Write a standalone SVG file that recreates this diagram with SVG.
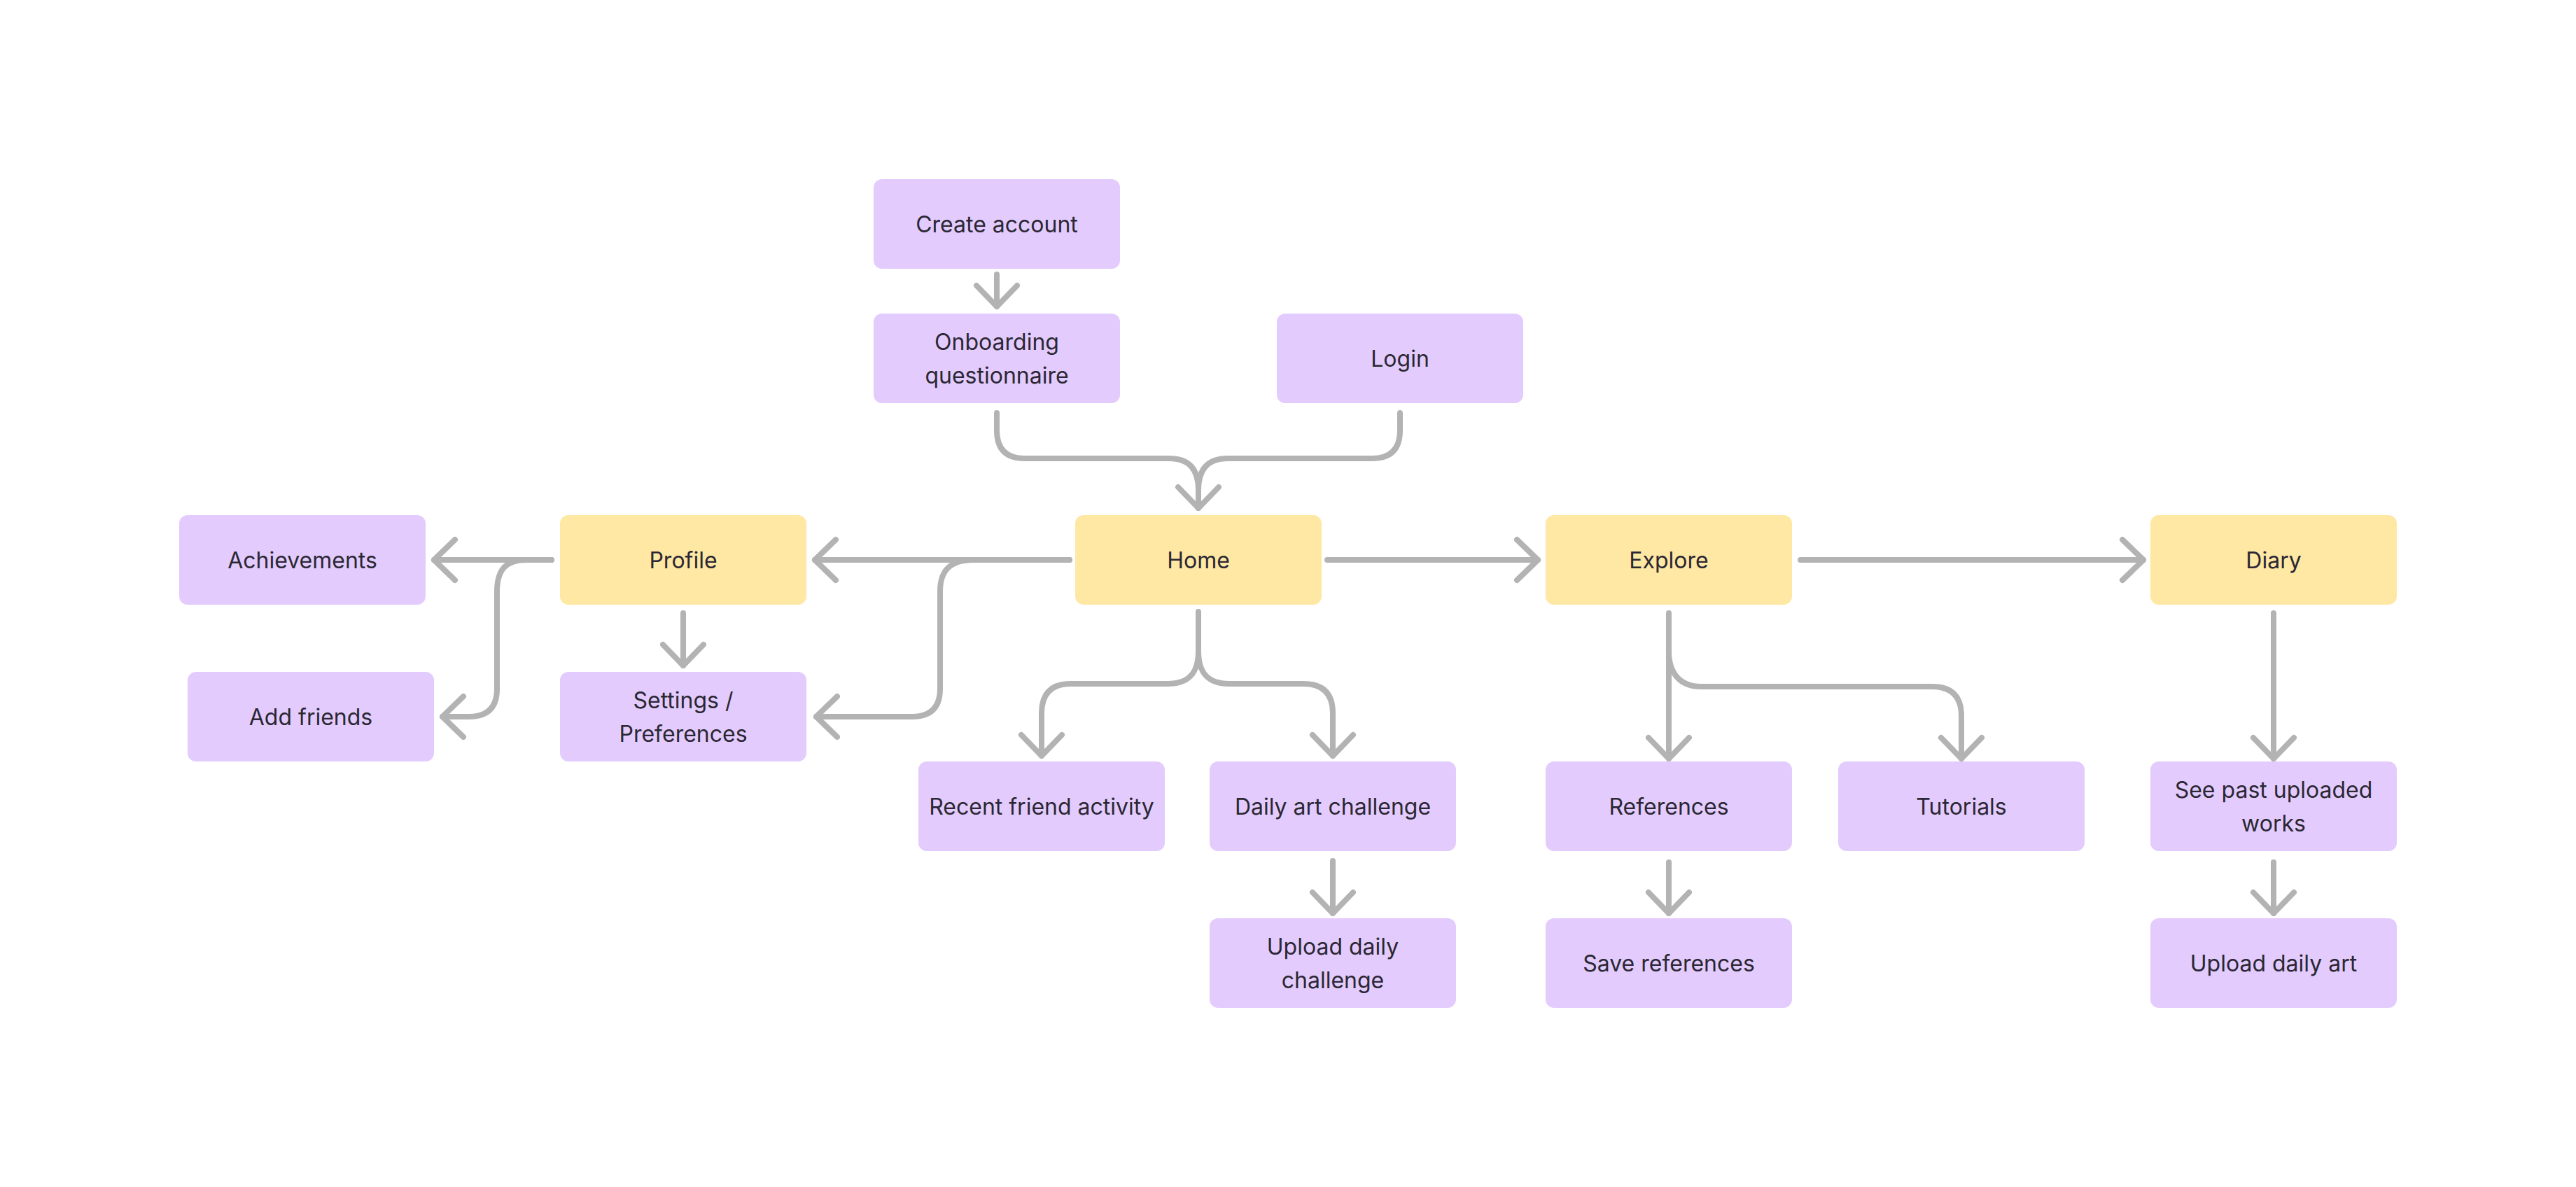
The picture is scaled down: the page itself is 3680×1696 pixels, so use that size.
<svg xmlns="http://www.w3.org/2000/svg" width="3680" height="1696" viewBox="0 0 3680 1696">
<defs>
<style>
.n rect{rx:12;ry:12}
.p rect{fill:#E3CCFD}
.y rect{fill:#FFE8A3}
text{font-family:Inter,"Noto Sans","Liberation Sans",sans-serif;font-size:32px;font-weight:400;fill:#2B2734;text-anchor:middle}
.c path{fill:none;stroke:#B3B3B3;stroke-width:8;stroke-linecap:round;stroke-linejoin:round}
</style>
<marker id="ah" markerUnits="userSpaceOnUse" viewBox="-40 -40 50 80" refX="0" refY="0" markerWidth="50" markerHeight="80" orient="auto" overflow="visible">
<path d="M-30 -29 L0 0 L-30 29" fill="none" stroke="#B3B3B3" stroke-width="8" stroke-linecap="round" stroke-linejoin="round"/>
</marker>
</defs>
<rect width="3680" height="1696" fill="#FFFFFF"/>
<g id="connectors" class="c">
<path d="M1424 392 V438" marker-end="url(#ah)"/>
<path d="M1424 590 V615 Q1424 655 1464 655 H1670 C1700 655 1712 672 1712 700 V726" marker-end="url(#ah)"/>
<path d="M2000 590 V615 Q2000 655 1960 655 H1754 C1724 655 1712 672 1712 700 V726"/>
<path d="M1528 800 H1164" marker-end="url(#ah)"/>
<path d="M1528 800 H1390 C1358 800 1343 815 1343 845 V984 Q1343 1024 1303 1024 H1166" marker-end="url(#ah)"/>
<path d="M788 800 H620" marker-end="url(#ah)"/>
<path d="M788 800 H752 C722 800 710 815 710 845 V984 Q710 1024 670 1024 H632" marker-end="url(#ah)"/>
<path d="M976 876 V951" marker-end="url(#ah)"/>
<path d="M1896 800 H2197" marker-end="url(#ah)"/>
<path d="M2572 800 H3062" marker-end="url(#ah)"/>
<path d="M1712 874 V930 C1712 960 1700 977 1668 977 H1530 Q1488 977 1488 1019 V1080" marker-end="url(#ah)"/>
<path d="M1712 930 C1712 960 1724 977 1756 977 H1862 Q1904 977 1904 1019 V1080" marker-end="url(#ah)"/>
<path d="M1904 1230 V1305" marker-end="url(#ah)"/>
<path d="M2384 876 V1084" marker-end="url(#ah)"/>
<path d="M2384 930 C2384 962 2400 981 2430 981 H2760 Q2802 981 2802 1023 V1084" marker-end="url(#ah)"/>
<path d="M2384 1232 V1305" marker-end="url(#ah)"/>
<path d="M3248 876 V1084" marker-end="url(#ah)"/>
<path d="M3248 1232 V1305" marker-end="url(#ah)"/>
</g>
<g id="create-account" class="n p"><rect x="1248" y="256" width="352" height="128"/><text x="1424" y="332">Create account</text></g>
<g id="onboarding" class="n p"><rect x="1248" y="448" width="352" height="128"/><text x="1424" y="500">Onboarding</text><text x="1424" y="548">questionnaire</text></g>
<g id="login" class="n p"><rect x="1824" y="448" width="352" height="128"/><text x="2000" y="524">Login</text></g>
<g id="home" class="n y"><rect x="1536" y="736" width="352" height="128"/><text x="1712" y="812">Home</text></g>
<g id="profile" class="n y"><rect x="800" y="736" width="352" height="128"/><text x="976" y="812">Profile</text></g>
<g id="achievements" class="n p"><rect x="256" y="736" width="352" height="128"/><text x="432" y="812">Achievements</text></g>
<g id="add-friends" class="n p"><rect x="268" y="960" width="352" height="128"/><text x="444" y="1036">Add friends</text></g>
<g id="settings" class="n p"><rect x="800" y="960" width="352" height="128"/><text x="976" y="1012">Settings /</text><text x="976" y="1060">Preferences</text></g>
<g id="explore" class="n y"><rect x="2208" y="736" width="352" height="128"/><text x="2384" y="812">Explore</text></g>
<g id="diary" class="n y"><rect x="3072" y="736" width="352" height="128"/><text x="3248" y="812">Diary</text></g>
<g id="recent-friend-activity" class="n p"><rect x="1312" y="1088" width="352" height="128"/><text x="1488" y="1164">Recent friend activity</text></g>
<g id="daily-art-challenge" class="n p"><rect x="1728" y="1088" width="352" height="128"/><text x="1904" y="1164">Daily art challenge</text></g>
<g id="upload-daily-challenge" class="n p"><rect x="1728" y="1312" width="352" height="128"/><text x="1904" y="1364">Upload daily</text><text x="1904" y="1412">challenge</text></g>
<g id="references" class="n p"><rect x="2208" y="1088" width="352" height="128"/><text x="2384" y="1164">References</text></g>
<g id="tutorials" class="n p"><rect x="2626" y="1088" width="352" height="128"/><text x="2802" y="1164">Tutorials</text></g>
<g id="save-references" class="n p"><rect x="2208" y="1312" width="352" height="128"/><text x="2384" y="1388">Save references</text></g>
<g id="see-past-uploaded-works" class="n p"><rect x="3072" y="1088" width="352" height="128"/><text x="3248" y="1140">See past uploaded</text><text x="3248" y="1188">works</text></g>
<g id="upload-daily-art" class="n p"><rect x="3072" y="1312" width="352" height="128"/><text x="3248" y="1388">Upload daily art</text></g>
</svg>
